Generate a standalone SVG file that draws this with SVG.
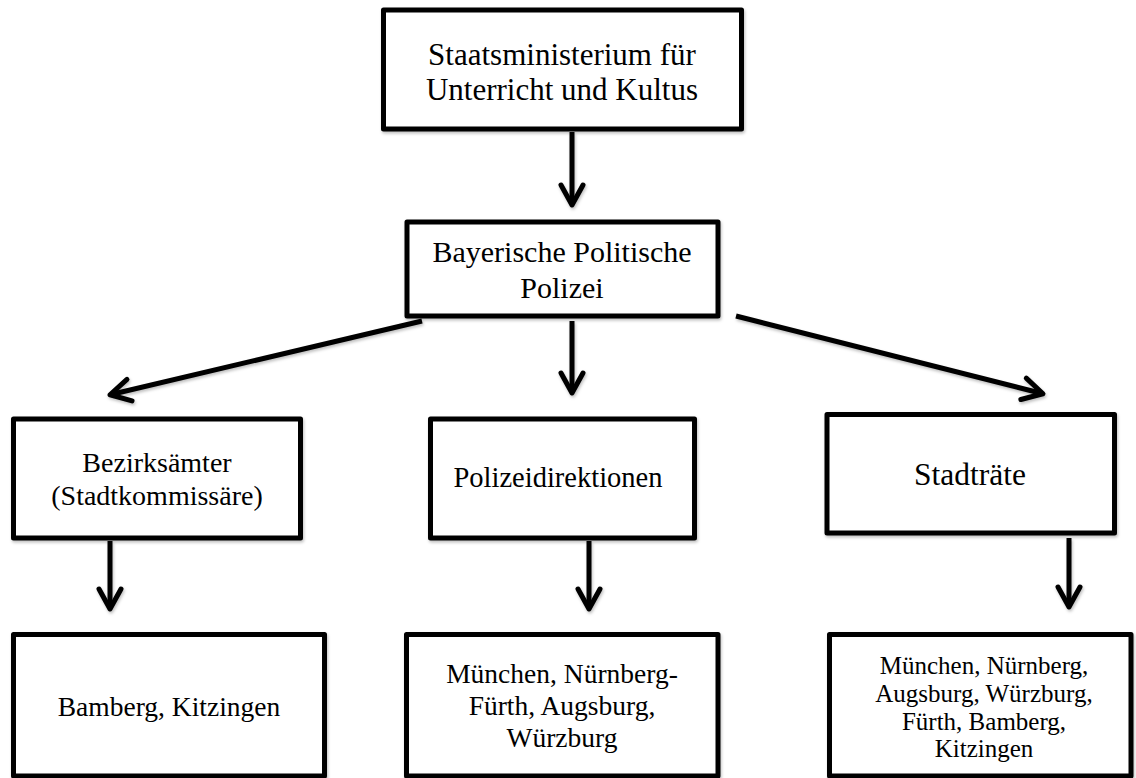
<svg xmlns="http://www.w3.org/2000/svg" width="1136" height="778" viewBox="0 0 1136 778">
  <style>
    .box { fill: #ffffff; stroke: #000000; stroke-width: 5; stroke-linejoin: round; }
    .lbl { font-family: "Liberation Serif", "DejaVu Serif", serif; fill: #000000; text-anchor: middle; }
    .con { fill: none; stroke: #000000; stroke-width: 5; stroke-linecap: butt; }
  </style>
  <defs>
    <filter id="sh" x="-5%" y="-5%" width="110%" height="115%">
      <feDropShadow dx="1" dy="2" stdDeviation="1.5" flood-color="#000000" flood-opacity="0.25"/>
    </filter>
    <marker id="chev" markerUnits="userSpaceOnUse" markerWidth="40" markerHeight="40" viewBox="-30 -20 40 40" refX="0" refY="0" orient="auto" overflow="visible">
      <path d="M -19 -11 L 1 0 L -19 11" fill="none" stroke="#000000" stroke-width="5" stroke-linecap="round" stroke-linejoin="round"/>
    </marker>
  </defs>
  <rect width="1136" height="778" fill="#ffffff"/>

  <g id="connectors" filter="url(#sh)">
    <line class="con" x1="572" y1="132" x2="572" y2="204" marker-end="url(#chev)"/>
    <line class="con" x1="422" y1="321" x2="111" y2="394.5" marker-end="url(#chev)"/>
    <line class="con" x1="572" y1="321" x2="572" y2="392" marker-end="url(#chev)"/>
    <line class="con" x1="736" y1="316" x2="1042" y2="393.5" marker-end="url(#chev)"/>
    <line class="con" x1="110" y1="541" x2="110" y2="608" marker-end="url(#chev)"/>
    <line class="con" x1="589" y1="541" x2="589" y2="608" marker-end="url(#chev)"/>
    <line class="con" x1="1069" y1="538" x2="1069" y2="606" marker-end="url(#chev)"/>
  </g>

  <g id="n-ministerium">
    <rect class="box" x="383.5" y="10" width="358" height="119" filter="url(#sh)"/>
    <text class="lbl" x="562" y="65" font-size="31">Staatsministerium für</text>
    <text class="lbl" x="562" y="100" font-size="31">Unterricht und Kultus</text>
  </g>

  <g id="n-bpp">
    <rect class="box" x="407" y="222" width="311" height="94" filter="url(#sh)"/>
    <text class="lbl" x="562" y="262" font-size="30">Bayerische Politische</text>
    <text class="lbl" x="562" y="298" font-size="30">Polizei</text>
  </g>

  <g id="n-bezirksaemter">
    <rect class="box" x="13.5" y="419" width="287" height="119" filter="url(#sh)"/>
    <text class="lbl" x="157" y="472" font-size="28">Bezirksämter</text>
    <text class="lbl" x="157" y="505" font-size="28">(Stadtkommissäre)</text>
  </g>

  <g id="n-polizeidirektionen">
    <rect class="box" x="430.5" y="419" width="264" height="119" filter="url(#sh)"/>
    <text class="lbl" x="558" y="487" font-size="28.5">Polizeidirektionen</text>
  </g>

  <g id="n-stadtraete">
    <rect class="box" x="827" y="414.5" width="287.5" height="118.5" filter="url(#sh)"/>
    <text class="lbl" x="970" y="485" font-size="31.5">Stadträte</text>
  </g>

  <g id="n-bamberg">
    <rect class="box" x="13.5" y="634.5" width="311" height="141.5" filter="url(#sh)"/>
    <text class="lbl" x="169" y="716" font-size="27.5">Bamberg, Kitzingen</text>
  </g>

  <g id="n-pd-staedte">
    <rect class="box" x="406.5" y="634.5" width="311.5" height="141.5" filter="url(#sh)"/>
    <text class="lbl" x="562" y="683" font-size="27.5">München, Nürnberg-</text>
    <text class="lbl" x="562" y="715" font-size="27.5">Fürth, Augsburg,</text>
    <text class="lbl" x="562" y="747" font-size="27.5">Würzburg</text>
  </g>

  <g id="n-st-staedte">
    <rect class="box" x="829.5" y="634.5" width="301.5" height="141.5" filter="url(#sh)"/>
    <text class="lbl" x="984" y="674" font-size="25">München, Nürnberg,</text>
    <text class="lbl" x="984" y="702" font-size="25">Augsburg, Würzburg,</text>
    <text class="lbl" x="984" y="730" font-size="25">Fürth, Bamberg,</text>
    <text class="lbl" x="984" y="757" font-size="25">Kitzingen</text>
  </g>
</svg>
